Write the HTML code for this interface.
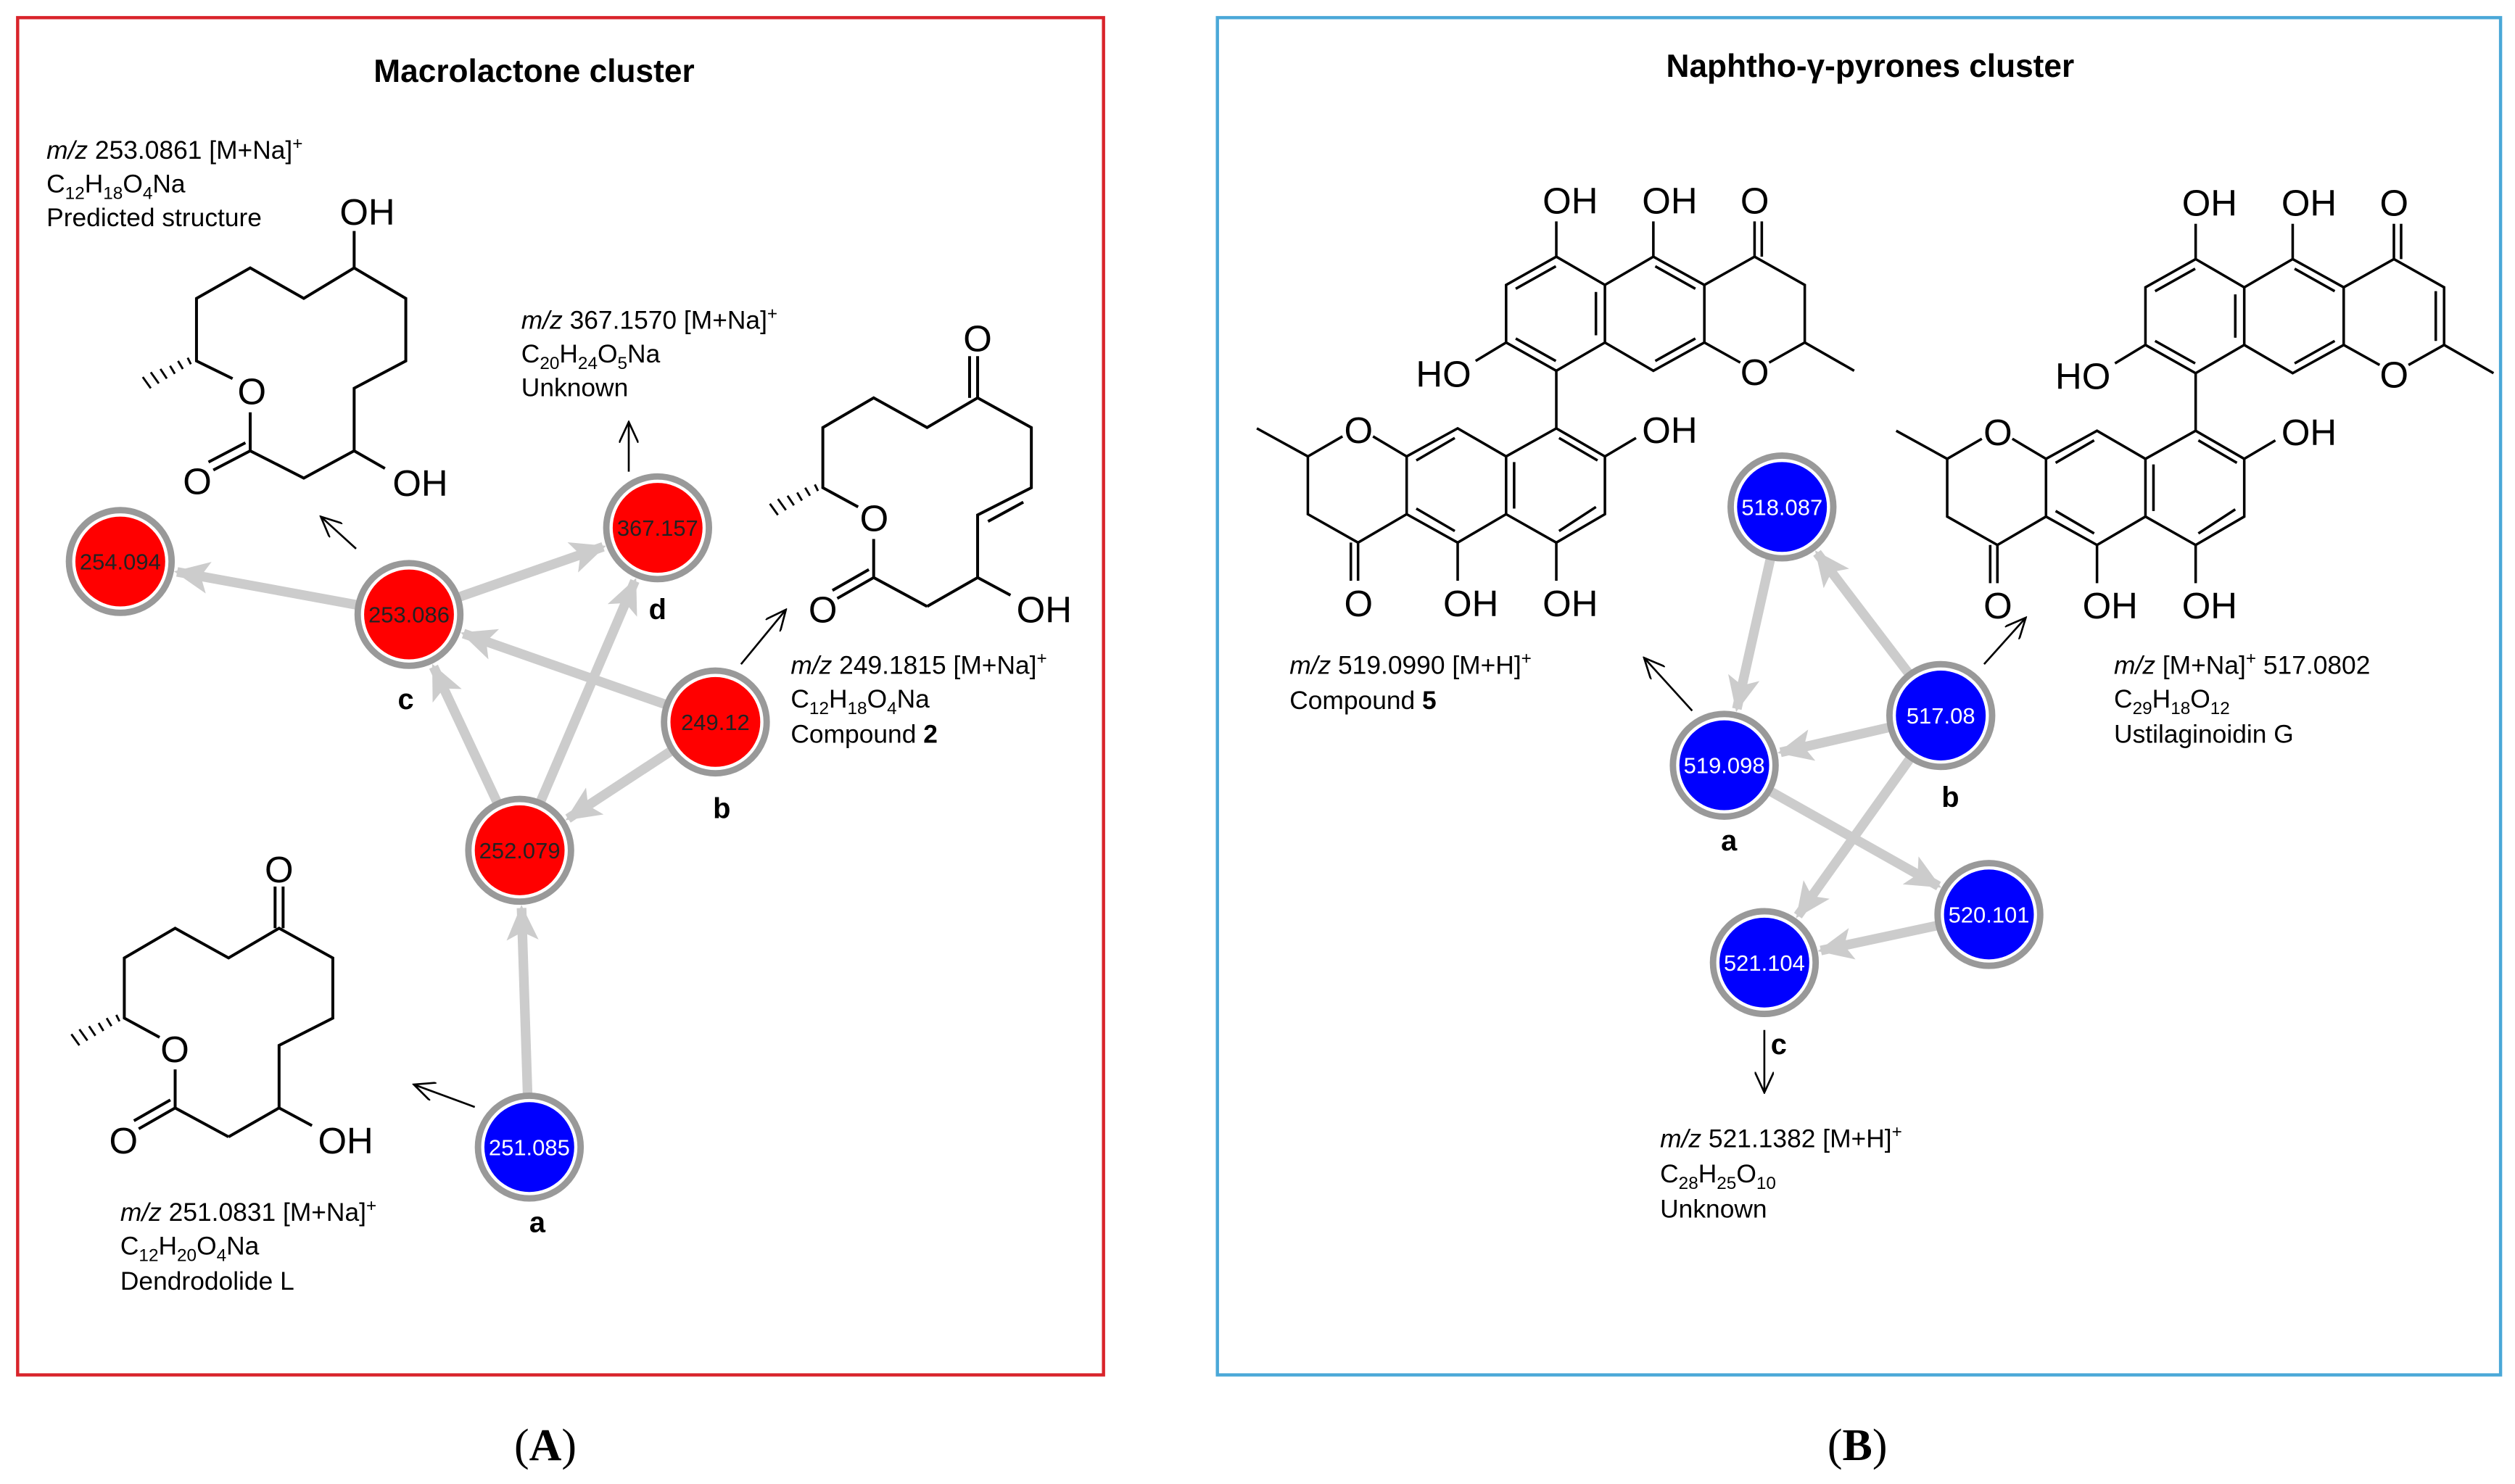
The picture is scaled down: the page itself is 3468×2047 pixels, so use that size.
<!DOCTYPE html>
<html><head><meta charset="utf-8"><style>
html,body{margin:0;padding:0;background:#fff}
svg{display:block}
text{font-family:"Liberation Sans",Arial,sans-serif}
</style></head><body>
<svg id="s" width="3468" height="2047" viewBox="0 0 1568 925" preserveAspectRatio="none" xmlns="http://www.w3.org/2000/svg">
<defs>
<marker id="ah" markerUnits="userSpaceOnUse" markerWidth="22" markerHeight="20" refX="20" refY="10" orient="auto"><path d="M0,0 L22,10 L0,20 L5,10 Z" fill="#cccccc"/></marker>
<marker id="th" markerUnits="userSpaceOnUse" markerWidth="14" markerHeight="12" refX="13" refY="6" orient="auto"><path d="M0,0 L13,6 L0,12" fill="none" stroke="#000" stroke-width="1.2"/></marker>
</defs>
<rect x="11" y="11" width="677" height="846" fill="none" stroke="#d9232a" stroke-width="2"/>
<rect x="759" y="11" width="800" height="846" fill="none" stroke="#4aa8d8" stroke-width="2"/>
<text x="333" y="51" font-size="20" font-weight="bold" text-anchor="middle">Macrolactone cluster</text>
<text x="1166" y="48" font-size="20" font-weight="bold" text-anchor="middle">Naphtho-γ-pyrones cluster</text>
<text x="340" y="910" font-size="28" text-anchor="middle" font-family="Liberation Serif" style="font-family:'Liberation Serif',serif">(<tspan font-weight="bold">A</tspan>)</text>
<text x="1158" y="910" font-size="28" text-anchor="middle" style="font-family:'Liberation Serif',serif">(<tspan font-weight="bold">B</tspan>)</text>

<g id="edges"></g>

<!-- thin arrows -->
<g stroke="#000" stroke-width="1.2" marker-end="url(#th)">
<line x1="222" y1="342" x2="200" y2="322"/>
<line x1="392" y1="294" x2="392" y2="263"/>
<line x1="462" y1="414" x2="490" y2="380"/>
<line x1="296" y1="690" x2="258" y2="676"/>
<line x1="1055" y1="443" x2="1025" y2="410"/>
<line x1="1237" y1="414" x2="1263" y2="385"/>
<line x1="1100" y1="642" x2="1100" y2="681"/>
</g>

<!-- macrolactone structures -->
<g fill="none" stroke="#000" stroke-width="1.8">
<polyline points="145,236 122.5,225 122.5,186 156,167 189.4,186 220.8,167 253,186 253,225 220.8,242 220.8,281 189.4,298 156,281 156,257"/>
<line x1="220.8" y1="167" x2="220.8" y2="144"/>
<line x1="220.8" y1="281" x2="240" y2="292"/>
<line x1="156" y1="281" x2="133" y2="293"/><line x1="153" y1="276" x2="130" y2="288"/>
<polyline points="578,378 609.5,360 609.5,321 643,304 643,266.5 609.5,248 578,266.5 544.7,248 513,266.5 513,304 535,316"/>
<polyline points="578,378 544.7,360 544.7,336"/>
<line x1="609.5" y1="248" x2="609.5" y2="222"/><line x1="604.5" y1="248" x2="604.5" y2="222"/>
<line x1="616" y1="325" x2="638" y2="313"/>
<line x1="609.5" y1="360" x2="630" y2="371"/>
<line x1="544.7" y1="360" x2="522" y2="373"/><line x1="541.7" y1="355" x2="519" y2="368"/>
<g transform="translate(-435.5,330.6)">
<polyline points="578,378 609.5,360 609.5,321 643,304 643,266.5 609.5,248 578,266.5 544.7,248 513,266.5 513,304 535,316"/>
<polyline points="578,378 544.7,360 544.7,336"/>
<line x1="612" y1="248" x2="612" y2="222"/><line x1="607" y1="248" x2="607" y2="222"/>
<line x1="609.5" y1="360" x2="630" y2="371"/>
<line x1="544.7" y1="360" x2="522" y2="373"/><line x1="541.7" y1="355" x2="519" y2="368"/>
</g>
</g>
<g stroke="#000" stroke-width="1.3">
<line x1="119" y1="227" x2="117" y2="223"/><line x1="114" y1="230" x2="111" y2="225"/><line x1="109" y1="233" x2="106" y2="228"/><line x1="104" y1="236" x2="100" y2="230"/><line x1="99" y1="239" x2="94" y2="232"/><line x1="94" y1="242" x2="89" y2="235"/>
<g transform="translate(391,79)"><line x1="119" y1="227" x2="117" y2="223"/><line x1="114" y1="230" x2="111" y2="225"/><line x1="109" y1="233" x2="106" y2="228"/><line x1="104" y1="236" x2="100" y2="230"/><line x1="99" y1="239" x2="94" y2="232"/><line x1="94" y1="242" x2="89" y2="235"/></g>
<g transform="translate(-44.5,409.6)"><line x1="119" y1="227" x2="117" y2="223"/><line x1="114" y1="230" x2="111" y2="225"/><line x1="109" y1="233" x2="106" y2="228"/><line x1="104" y1="236" x2="100" y2="230"/><line x1="99" y1="239" x2="94" y2="232"/><line x1="94" y1="242" x2="89" y2="235"/></g>
</g>
<g font-size="23" text-anchor="middle">
<text x="229" y="140">OH</text><text x="157" y="252">O</text><text x="123" y="308">O</text><text x="262" y="309">OH</text>
<text x="609.5" y="219">O</text><text x="545" y="331">O</text><text x="513" y="388">O</text><text x="651" y="388">OH</text>
<text x="174" y="550">O</text><text x="109" y="662">O</text><text x="77" y="719">O</text><text x="215.5" y="719">OH</text>
</g>

<!-- naphthopyrones -->
<g id="np">
<g fill="none" stroke="#000" stroke-width="1.6">
<polygon points="970.3,160 1000.6,177.6 1000.6,213.5 970.3,231.1 939,213.5 939,177.6"/>
<polyline points="1000.6,177.6 1030.8,160 1062.6,177.6 1062.6,213.5 1030.8,231.1 1000.6,213.5"/>
<polyline points="1062.6,177.6 1093.9,160 1125.2,177.6 1125.2,213.5 1103,226"/>
<line x1="1062.6" y1="213.5" x2="1085" y2="226"/>
<line x1="1125.2" y1="213.5" x2="1156" y2="231.1"/>
<line x1="1093.9" y1="160" x2="1093.9" y2="138"/><line x1="1098.4" y1="160" x2="1098.4" y2="138"/>
<line x1="970.3" y1="160" x2="970.3" y2="138"/><line x1="1030.8" y1="160" x2="1030.8" y2="138"/>
<line x1="939" y1="213.5" x2="920" y2="225"/>
<line x1="945" y1="180" x2="970" y2="166"/><line x1="995" y1="182" x2="995" y2="209"/><line x1="945" y1="211" x2="970" y2="225"/>
<line x1="1032" y1="166" x2="1057" y2="180"/><line x1="1032" y1="225" x2="1057" y2="211"/>
<line x1="970.3" y1="231.1" x2="970.3" y2="267"/>
<polygon points="970.3,267 1000.6,284.5 1000.6,320.5 970.3,338.2 939,320.5 939,284.5"/>
<polyline points="939,284.5 908.8,267 877,284.5 877,320.5 908.8,338.2 939,320.5"/>
<polyline points="877,284.5 856,272"/><polyline points="837,272 815.4,284.5 815.4,320.5 846.7,338.2 877,320.5"/>
<line x1="815.4" y1="284.5" x2="783.6" y2="267"/>
<line x1="846.7" y1="338.2" x2="846.7" y2="362"/><line x1="842.2" y1="338.2" x2="842.2" y2="362"/>
<line x1="908.8" y1="338.2" x2="908.8" y2="362"/><line x1="970.3" y1="338.2" x2="970.3" y2="362"/>
<line x1="1000.6" y1="284.5" x2="1020" y2="273"/>
<line x1="972" y1="273" x2="996" y2="287"/><line x1="995" y1="316" x2="972" y2="331"/><line x1="944" y1="288" x2="944" y2="317"/>
<line x1="883" y1="287" x2="907" y2="273"/><line x1="883" y1="317" x2="907" y2="331"/>
</g>
<g font-size="23" text-anchor="middle">
<text x="979" y="133">OH</text><text x="1041" y="133">OH</text><text x="1094" y="133">O</text>
<text x="1094" y="240">O</text><text x="900" y="241">HO</text>
<text x="847" y="276">O</text><text x="1041" y="276">OH</text>
<text x="847" y="384">O</text><text x="917" y="384">OH</text><text x="979" y="384">OH</text>
</g>
</g>
<g transform="translate(398.6,1.5)">
<use href="#np"/>
<line x1="1120" y1="180" x2="1120" y2="211" stroke="#000" stroke-width="1.6"/>
</g>

<!-- text blocks -->
<g font-size="16">
<text x="29" y="99"><tspan font-style="italic">m/z</tspan> 253.0861 [M+Na]<tspan dy="-6" font-size="11">+</tspan></text>
<text x="29" y="120">C<tspan dy="4" font-size="11">12</tspan><tspan dy="-4">H</tspan><tspan dy="4" font-size="11">18</tspan><tspan dy="-4">O</tspan><tspan dy="4" font-size="11">4</tspan><tspan dy="-4">Na</tspan></text>
<text x="29" y="141">Predicted structure</text>
<text x="325" y="205"><tspan font-style="italic">m/z</tspan> 367.1570 [M+Na]<tspan dy="-6" font-size="11">+</tspan></text>
<text x="325" y="226">C<tspan dy="4" font-size="11">20</tspan><tspan dy="-4">H</tspan><tspan dy="4" font-size="11">24</tspan><tspan dy="-4">O</tspan><tspan dy="4" font-size="11">5</tspan><tspan dy="-4">Na</tspan></text>
<text x="325" y="247">Unknown</text>
<text x="493" y="420"><tspan font-style="italic">m/z</tspan> 249.1815 [M+Na]<tspan dy="-6" font-size="11">+</tspan></text>
<text x="493" y="441">C<tspan dy="4" font-size="11">12</tspan><tspan dy="-4">H</tspan><tspan dy="4" font-size="11">18</tspan><tspan dy="-4">O</tspan><tspan dy="4" font-size="11">4</tspan><tspan dy="-4">Na</tspan></text>
<text x="493" y="463">Compound <tspan font-weight="bold">2</tspan></text>
<text x="75" y="761"><tspan font-style="italic">m/z</tspan> 251.0831 [M+Na]<tspan dy="-6" font-size="11">+</tspan></text>
<text x="75" y="782">C<tspan dy="4" font-size="11">12</tspan><tspan dy="-4">H</tspan><tspan dy="4" font-size="11">20</tspan><tspan dy="-4">O</tspan><tspan dy="4" font-size="11">4</tspan><tspan dy="-4">Na</tspan></text>
<text x="75" y="804">Dendrodolide L</text>
<text x="804" y="420"><tspan font-style="italic">m/z</tspan> 519.0990 [M+H]<tspan dy="-6" font-size="11">+</tspan></text>
<text x="804" y="442">Compound <tspan font-weight="bold">5</tspan></text>
<text x="1318" y="420"><tspan font-style="italic">m/z</tspan> [M+Na]<tspan dy="-6" font-size="11">+</tspan><tspan dy="6"> 517.0802</tspan></text>
<text x="1318" y="441">C<tspan dy="4" font-size="11">29</tspan><tspan dy="-4">H</tspan><tspan dy="4" font-size="11">18</tspan><tspan dy="-4">O</tspan><tspan dy="4" font-size="11">12</tspan></text>
<text x="1318" y="463">Ustilaginoidin G</text>
<text x="1035" y="715"><tspan font-style="italic">m/z</tspan> 521.1382 [M+H]<tspan dy="-6" font-size="11">+</tspan></text>
<text x="1035" y="737">C<tspan dy="4" font-size="11">28</tspan><tspan dy="-4">H</tspan><tspan dy="4" font-size="11">25</tspan><tspan dy="-4">O</tspan><tspan dy="4" font-size="11">10</tspan></text>
<text x="1035" y="759">Unknown</text>
</g>
<g font-size="18" font-weight="bold" text-anchor="middle">
<text x="253" y="442">c</text><text x="410" y="386">d</text><text x="450" y="510">b</text><text x="335" y="768">a</text>
<text x="1078" y="530">a</text><text x="1216" y="503">b</text><text x="1109" y="657">c</text>
</g>
<g id="nodes"></g>
</svg>
<script>
var N={a1:[75,350,'254.094','r'],a2:[255,383,'253.086','r'],a3:[410,329,'367.157','r'],a4:[446,450,'249.12','r'],a5:[324,530,'252.079','r'],a6:[330,715,'251.085','b'],
b1:[1111,316,'518.087','b'],b2:[1210,446,'517.08','b'],b3:[1075,477,'519.098','b'],b4:[1240,570,'520.101','b'],b5:[1100,600,'521.104','b']};
var E=[['a2','a1'],['a2','a3'],['a4','a2'],['a4','a5'],['a5','a2'],['a5','a3'],['a6','a5'],
['b1','b3'],['b2','b1'],['b2','b3'],['b3','b4'],['b2','b5'],['b4','b5']];
var ns='http://www.w3.org/2000/svg',eg=document.getElementById('edges'),ng=document.getElementById('nodes');
E.forEach(function(e){var p=N[e[0]],q=N[e[1]],dx=q[0]-p[0],dy=q[1]-p[1],d=Math.hypot(dx,dy),ux=dx/d,uy=dy/d;
var l=document.createElementNS(ns,'line');l.setAttribute('x1',p[0]+ux*32);l.setAttribute('y1',p[1]+uy*32);
l.setAttribute('x2',q[0]-ux*36);l.setAttribute('y2',q[1]-uy*36);l.setAttribute('stroke','#cccccc');l.setAttribute('stroke-width','6');
l.setAttribute('marker-end','url(#ah)');eg.appendChild(l);});
for(var k in N){var n=N[k];var c=document.createElementNS(ns,'circle');c.setAttribute('cx',n[0]);c.setAttribute('cy',n[1]);c.setAttribute('r',32);
c.setAttribute('fill','#fff');c.setAttribute('stroke','#999');c.setAttribute('stroke-width','4');ng.appendChild(c);
var c2=document.createElementNS(ns,'circle');c2.setAttribute('cx',n[0]);c2.setAttribute('cy',n[1]);c2.setAttribute('r',28);
c2.setAttribute('fill',n[3]=='r'?'#ff0000':'#0000ff');ng.appendChild(c2);
var t=document.createElementNS(ns,'text');t.setAttribute('x',n[0]);t.setAttribute('y',n[1]+5);t.setAttribute('font-size','14');
t.setAttribute('text-anchor','middle');t.setAttribute('fill',n[3]=='r'?'#222':'#fff');t.textContent=n[2];ng.appendChild(t);}
</script>
</body></html>
